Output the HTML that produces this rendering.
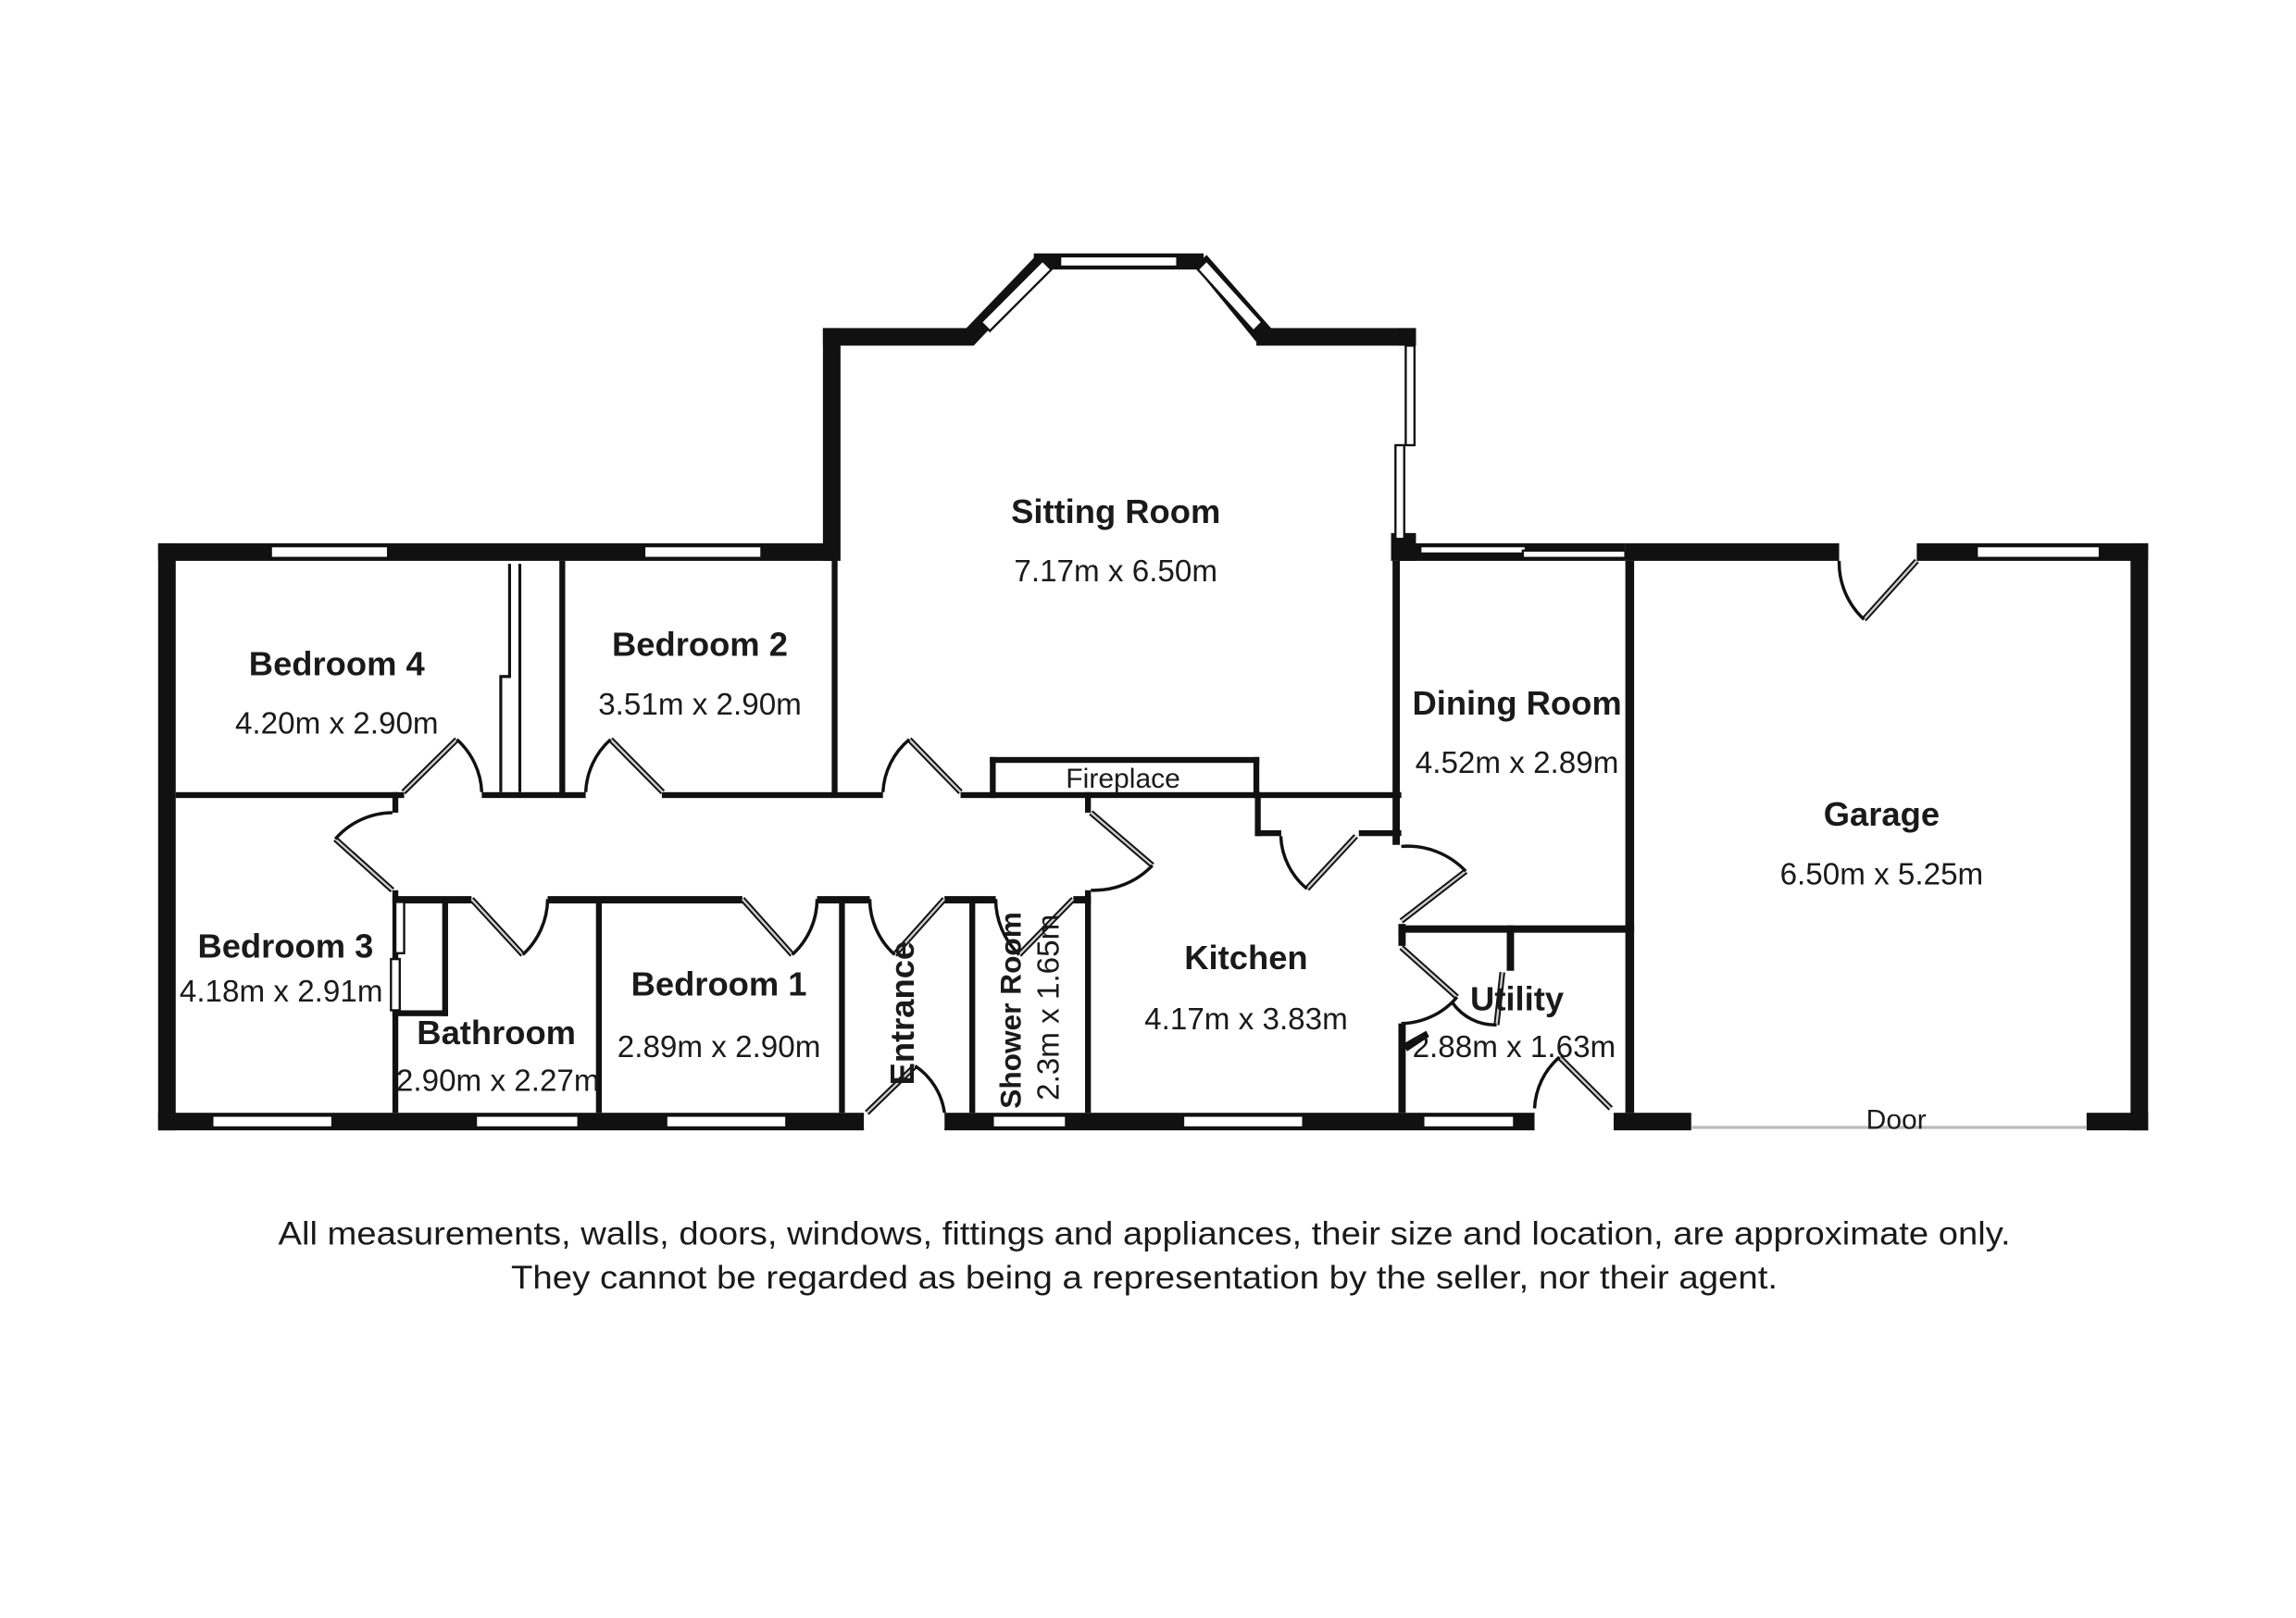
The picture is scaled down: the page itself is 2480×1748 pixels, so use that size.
<!DOCTYPE html>
<html><head><meta charset="utf-8"><style>
html,body{margin:0;padding:0;background:#fff}
svg{display:block}
text{font-family:"Liberation Sans",sans-serif;fill:#1a1a1a}
.b{font-weight:bold;font-size:23px}
.n{font-size:21px}
</style></head><body>
<svg width="2480" height="1748" viewBox="0 0 1568 1105" xmlns="http://www.w3.org/2000/svg">
<rect width="1568" height="1105" fill="#fff"/>
<g fill="#111">
<!-- outer left block -->
<rect x="108" y="371" width="464" height="12"/>
<rect x="108" y="371" width="12" height="401"/>
<rect x="108" y="760" width="482" height="12"/>
<rect x="645" y="760" width="403" height="12"/>
<rect x="1102" y="760" width="53" height="12"/>
<rect x="1425" y="760" width="42" height="12"/>
<!-- sitting room -->
<rect x="562" y="224" width="12" height="159"/>
<rect x="562" y="224" width="103" height="12"/>
<polygon points="660,224 708,174 716,182 665,236"/>
<rect x="706" y="173" width="116" height="11"/>
<polygon points="816,182 824,174 868,224 860,236"/>
<rect x="858" y="224" width="109" height="12"/>
<rect x="955" y="224" width="12" height="12"/>
<rect x="950" y="364" width="17" height="19"/>
<!-- dining + garage top -->
<rect x="955" y="371" width="155" height="12"/>
<rect x="1110" y="371" width="146" height="12"/>
<rect x="1309" y="371" width="158" height="12"/>
<rect x="1455" y="371" width="12" height="401"/>
<!-- corridor top wall -->
<rect x="120" y="541" width="156" height="4"/>
<rect x="329" y="541" width="71" height="4"/>
<rect x="452" y="541" width="151" height="4"/>
<rect x="656" y="541" width="301" height="4"/>
<rect x="568" y="383" width="4" height="160"/>
<rect x="382" y="383" width="4" height="160"/>
<!-- corridor sides -->
<rect x="268" y="541" width="4" height="14"/>
<rect x="268" y="608" width="4" height="152"/>
<rect x="741" y="541" width="4" height="14"/>
<rect x="741" y="608" width="4" height="152"/>
<!-- corridor bottom wall -->
<rect x="268" y="612" width="54" height="5"/>
<rect x="374" y="612" width="133" height="5"/>
<rect x="558" y="612" width="36" height="5"/>
<rect x="645" y="612" width="35" height="5"/>
<rect x="733" y="612" width="12" height="5"/>
<!-- room dividers -->
<rect x="407" y="614" width="4" height="146"/>
<rect x="573" y="614" width="4" height="146"/>
<rect x="662" y="614" width="4" height="146"/>
<!-- bathroom cupboard -->
<rect x="302" y="614" width="4" height="80"/>
<rect x="268" y="690" width="38" height="4"/>
<!-- kitchen / dining -->
<rect x="951" y="383" width="5" height="194"/>
<rect x="955" y="631" width="5" height="15"/>
<rect x="955" y="699" width="5" height="61"/>
<rect x="857" y="541" width="4" height="30"/>
<rect x="857" y="567" width="18" height="4"/>
<rect x="928" y="567" width="29" height="4"/>
<rect x="955" y="632" width="161" height="5"/>
<rect x="1110" y="383" width="6" height="377"/>
<rect x="1029" y="632" width="5" height="31"/>
<polygon points="958,713 974,704 976,708 961,718"/>
<!-- fireplace -->
<rect x="676" y="517" width="184" height="4"/>
<rect x="676" y="517" width="4" height="28"/>
<rect x="856" y="517" width="4" height="28"/>
</g>
<!-- wardrobe lines bedroom4 -->
<g fill="none" stroke="#111" stroke-width="2">
<path d="M348 385V462H342V541M355 385V541"/>
</g>
<!-- windows -->
<g fill="#fff" stroke="#111" stroke-width="1.5">
<rect x="185" y="373" width="80" height="8"/>
<rect x="440" y="373" width="80" height="8"/>
<rect x="145" y="762" width="82" height="8"/>
<rect x="325" y="762" width="70" height="8"/>
<rect x="455" y="762" width="82" height="8"/>
<rect x="678" y="762" width="50" height="8"/>
<rect x="808" y="762" width="82" height="8"/>
<rect x="972" y="762" width="62" height="8"/>
<rect x="1350" y="373" width="84" height="8"/>
<rect x="724" y="175" width="80" height="7"/>
<rect x="960" y="236" width="6" height="68"/>
<rect x="953" y="304" width="6" height="64"/>
<rect x="970" y="373" width="72" height="5"/>
<rect x="1040" y="376" width="70" height="5"/>
<rect x="270" y="616" width="6" height="35"/>
<rect x="267" y="655" width="6" height="35"/>
<polygon points="670,220 712,178 718,184 676,226"/>
<polygon points="818,184 824,178 862,220 856,226"/>
<rect x="590" y="762" width="55" height="8" stroke="none"/>
<rect x="1048" y="762" width="54" height="8" stroke="none"/>
</g>
<line x1="1155" y1="770" x2="1425" y2="770" stroke="#bbb" stroke-width="2"/>
<!-- door leaves -->
<g stroke="#111" stroke-width="4" stroke-linecap="butt">
<path d="M275.5 541L312 505M452.6 541L417 505M656 541L621 505M268 608L229 573M745 555L787 591M322 614L357 652M507 614L541 652M645 614L611 652M733 614L696 652M926 571L892.6 607M957 629L1001 595M957 647L995 681M1026 664L1022 700M1100 757L1065 722M1309 383L1273 423M592 760L625 728"/>
</g>
<g stroke="#ccc" stroke-width="1.5">
<path d="M275.5 541L312 505M452.6 541L417 505M656 541L621 505M268 608L229 573M745 555L787 591M322 614L357 652M507 614L541 652M645 614L611 652M733 614L696 652M926 571L892.6 607M957 629L1001 595M957 647L995 681M1026 664L1022 700M1100 757L1065 722M1309 383L1273 423M592 760L625 728"/>
</g>
<!-- door arcs -->
<g fill="none" stroke="#111" stroke-width="2.2">
<path d="M312 505A51 51 0 0 1 329 541"/>
<path d="M417 505A51 51 0 0 0 400 541"/>
<path d="M621 505A50 50 0 0 0 603 541"/>
<path d="M229 573A52 52 0 0 1 268 555"/>
<path d="M787 591A55 55 0 0 1 745 608"/>
<path d="M357 652A52 52 0 0 0 374 614"/>
<path d="M541 652A51 51 0 0 0 558 614"/>
<path d="M611 652A51 51 0 0 1 594 614"/>
<path d="M696 652A53 53 0 0 1 680 614"/>
<path d="M892.6 607A49 49 0 0 1 874.7 571"/>
<path d="M1001 595A55 55 0 0 0 957 578"/>
<path d="M995 681A51 51 0 0 1 957 699"/>
<path d="M1022 700A36 36 0 0 1 992 685"/>
<path d="M1065 722A49 49 0 0 0 1048 757"/>
<path d="M1273 423A53 53 0 0 1 1256 383"/>
<path d="M625 728A46 46 0 0 1 645 760"/>
</g>
<!-- labels -->
<text class="b" x="230" y="461" text-anchor="middle">Bedroom 4</text>
<text class="n" x="230" y="501" text-anchor="middle">4.20m x 2.90m</text>
<text class="b" x="478" y="448" text-anchor="middle">Bedroom 2</text>
<text class="n" x="478" y="488" text-anchor="middle">3.51m x 2.90m</text>
<text class="b" x="762" y="357" text-anchor="middle">Sitting Room</text>
<text class="n" x="762" y="397" text-anchor="middle">7.17m x 6.50m</text>
<text class="n" x="767" y="538" text-anchor="middle" style="font-size:19px">Fireplace</text>
<text class="b" x="1036" y="488" text-anchor="middle">Dining Room</text>
<text class="n" x="1036" y="528" text-anchor="middle">4.52m x 2.89m</text>
<text class="b" x="1285" y="564" text-anchor="middle">Garage</text>
<text class="n" x="1285" y="604" text-anchor="middle">6.50m x 5.25m</text>
<text class="b" x="195" y="654" text-anchor="middle">Bedroom 3</text>
<text class="n" x="192" y="684" text-anchor="middle">4.18m x 2.91m</text>
<text class="b" x="339" y="713" text-anchor="middle">Bathroom</text>
<text class="n" x="340" y="745" text-anchor="middle">2.90m x 2.27m</text>
<text class="b" x="491" y="680" text-anchor="middle">Bedroom 1</text>
<text class="n" x="491" y="722" text-anchor="middle">2.89m x 2.90m</text>
<text class="b" x="851" y="662" text-anchor="middle">Kitchen</text>
<text class="n" x="851" y="703" text-anchor="middle">4.17m x 3.83m</text>
<text class="b" x="1036" y="690" text-anchor="middle">Utility</text>
<text class="n" x="1034" y="722" text-anchor="middle">2.88m x 1.63m</text>
<text class="n" x="1295" y="771" text-anchor="middle" style="font-size:19px">Door</text>
<text class="b" transform="translate(624,692) rotate(-90)" text-anchor="middle">Entrance</text>
<text class="b" transform="translate(697,690) rotate(-90)" text-anchor="middle" style="font-size:20px">Shower Room</text>
<text class="n" transform="translate(723,688) rotate(-90)" text-anchor="middle">2.3m x 1.65m</text>
<text class="n" x="190" y="850" textLength="1183" lengthAdjust="spacingAndGlyphs" style="font-size:22px">All measurements, walls, doors, windows, fittings and appliances, their size and location, are approximate only.</text>
<text class="n" x="349" y="880" textLength="865" lengthAdjust="spacingAndGlyphs" style="font-size:22px">They cannot be regarded as being a representation by the seller, nor their agent.</text>
</svg>
</body></html>
